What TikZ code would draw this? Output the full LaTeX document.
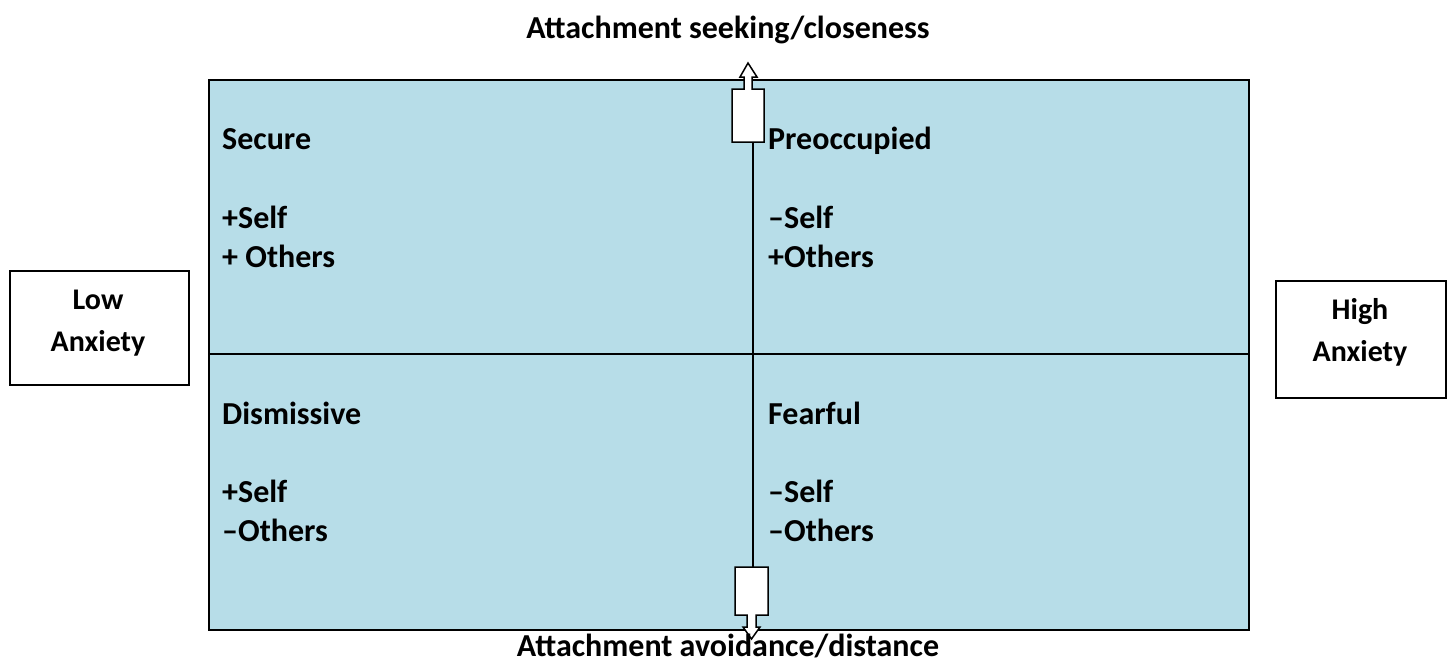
\documentclass[tikz,border=0pt]{standalone}
\usepackage{fontspec}
\setmainfont{Carlito}
\definecolor{quad}{HTML}{B7DDE8}
\begin{document}
\begin{tikzpicture}[x=1pt,y=-1pt,
  lbl/.style={anchor=base west,inner sep=0pt,font=\fontsize{32}{39}\selectfont\bfseries},
  ttl/.style={anchor=base,inner sep=0pt,font=\fontsize{32}{39}\selectfont\bfseries},
  stxt/.style={anchor=base,inner sep=0pt,font=\fontsize{30}{42}\selectfont\bfseries},
  side/.style={draw,line width=1.5pt,fill=white,inner sep=0pt},
  arr/.style={draw,line width=1.5pt,fill=white,line join=miter}]
\useasboundingbox (0,0) rectangle (1451,664);
% main quadrant area
\node[draw,line width=2pt,fill=quad,minimum width=1040pt,minimum height=550pt,anchor=north west,inner sep=0pt] (grid) at (208,79) {};
\draw[line width=1.8pt] (grid.west |- 0,354) coordinate (hl) -- (grid.east |- 0,354) coordinate (hr);
% vertical axis arrows
\draw[arr] (732,142) -- (732,89) -- (744,89) -- (744,77) -- (740,77) -- (748,63) -- (757,77) -- (752,77) -- (752,89) -- (764,89) -- (764,142) -- cycle;
\coordinate (topbox) at (753,142);
\draw[arr] (735,567) -- (768,567) -- (768,615) -- (756,615) -- (756,627) -- (760,627) -- (751.5,639) -- (743,627) -- (747,627) -- (747,615) -- (735,615) -- cycle;
\coordinate (botbox) at (753,567);
\draw[line width=1.8pt] (topbox) -- (botbox);
% titles
\node[ttl] (ttop) at (728,38) {Attachment seeking/closeness};
\node[ttl] (tbot) at (728,656) {Attachment avoidance/distance};
% quadrant labels
\node[lbl] (sec) at (222,149) {Secure};
\node[lbl] (sec1) at (222,228) {+Self};
\node[lbl] (sec2) at (222,267) {+ Others};
\node[lbl] (pre) at (768,149) {Preoccupied};
\node[lbl] (pre1) at (768,228) {–Self};
\node[lbl] (pre2) at (768,267) {+Others};
\node[lbl] (dis) at (222,424) {Dismissive};
\node[lbl] (dis1) at (222,502) {+Self};
\node[lbl] (dis2) at (222,541) {–Others};
\node[lbl] (fea) at (768,424) {Fearful};
\node[lbl] (fea1) at (768,502) {–Self};
\node[lbl] (fea2) at (768,541) {–Others};
% side boxes
\node[side,minimum width=179pt,minimum height=114pt,anchor=north west] (low) at (9,270) {};
\node[side,minimum width=170pt,minimum height=117pt,anchor=north west] (high) at (1275,280) {};
\node[stxt] (lowt1) at (98,309) {Low};
\node[stxt] (lowt2) at (98,351) {Anxiety};
\node[stxt] (hight1) at (1360,319) {High};
\node[stxt] (hight2) at (1360,361) {Anxiety};
\end{tikzpicture}
\end{document}
